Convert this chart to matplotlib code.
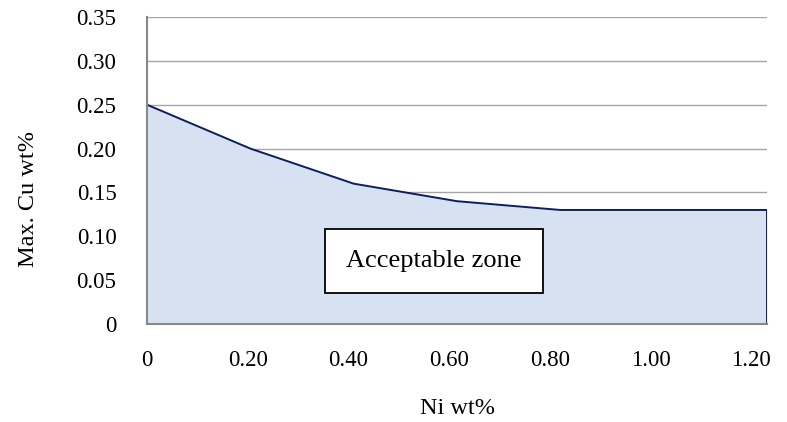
import matplotlib.pyplot as plt
from matplotlib.transforms import ScaledTranslation

# Max Cu content vs Ni content
ni = [0, 0.20, 0.40, 0.60, 0.80, 1.00, 1.20]
cu_max = [0.25, 0.20, 0.16, 0.14, 0.13, 0.13, 0.13]
x_labels = ['0', '0.20', '0.40', '0.60', '0.80', '1.00', '1.20']
y_ticks = [0, 0.05, 0.10, 0.15, 0.20, 0.25, 0.30, 0.35]
y_labels = ['0', '0.05', '0.10', '0.15', '0.20', '0.25', '0.30', '0.35']

plt.rcParams['font.family'] = ['Liberation Serif', 'DejaVu Serif']

fig = plt.figure(figsize=(7.87, 4.22), dpi=100)
ax = fig.add_axes([147/787, 1 - 324/422, 620/787, 307/422])

ax.fill_between(ni, cu_max, 0, color='#d6e2f2', lw=0, zorder=2)
# outline incl. the right edge down to zero
ax.plot(ni + [ni[-1]], cu_max + [0], color='#0d1f5c', lw=1.4, zorder=3)

ax.set_xlim(ni[0], ni[-1])
ax.set_ylim(0, 0.35)
ax.set_yticks(y_ticks)
ax.set_yticklabels(y_labels)
ax.set_xticks(ni)
ax.set_xticklabels(x_labels)
ax.tick_params(axis='both', length=0, labelsize=16.5)
ax.tick_params(axis='x', pad=19)
ax.tick_params(axis='y', pad=22)

# Excel-style label spacing: labels slightly tighter than the data points
for i, lab in enumerate(ax.get_xticklabels()):
    lab.set_transform(lab.get_transform() + ScaledTranslation(-0.026 * i, 0, fig.dpi_scale_trans))

ax.grid(axis='y', color='#a6a6a6', lw=1.0, zorder=1)
for s in ['top', 'right']:
    ax.spines[s].set_visible(False)
for s in ['left', 'bottom']:
    ax.spines[s].set_color('#888888')
    ax.spines[s].set_linewidth(1.5)
    ax.spines[s].set_zorder(4)

ax.text(0.555, 0.072, 'Acceptable zone', fontsize=19, ha='center', va='center', zorder=5,
        bbox=dict(boxstyle='square,pad=0.8', fc='white', ec='black', lw=1.3))

fig.text(457/787, 1 - 408/422, 'Ni wt%', fontsize=17.5, ha='center', va='center')
fig.text(28/787, 1 - 199/422, 'Max. Cu wt%', fontsize=17.5, ha='center', va='center', rotation=90)

fig.savefig('out.png', dpi=100)
